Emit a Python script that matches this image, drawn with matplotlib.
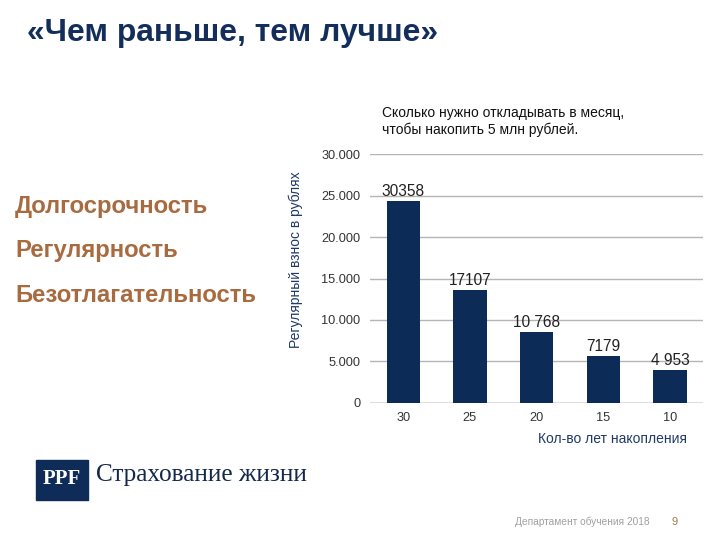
import matplotlib
matplotlib.use("Agg")
import matplotlib.pyplot as plt
from matplotlib.patches import Rectangle
from matplotlib.ticker import FuncFormatter

# data
years = ["30", "25", "20", "15", "10"]
bar_heights = [24300, 13650, 8580, 5680, 3950]
value_labels = ["30358", "17107", "10 768", "7179", "4 953"]
y_ticks = [0, 5000, 10000, 15000, 20000, 25000, 30000]
key_points = ["Долгосрочность", "Регулярность", "Безотлагательность"]

navy = "#0d2b57"
brown = "#a86b40"

plt.rcParams["font.family"] = ["Liberation Sans", "DejaVu Sans"]

fig = plt.figure(figsize=(7.2, 5.4), dpi=100)
W, H = 720, 540

def fx(px):
  return px / W

def fy(py):
  return 1 - py / H

ax = fig.add_axes([fx(370), fy(402.7), fx(703.3) - fx(370), fy(154.3) - fy(402.7)])
x = list(range(len(years)))
ax.bar(x, bar_heights, width=0.5, color=navy, zorder=3)
for xi, h, lab in zip(x, bar_heights, value_labels):
  ax.text(xi, h + 250, lab, ha="center", va="bottom", fontsize=11.2, color="#222222", zorder=4)

ax.set_xlim(-0.5, len(years) - 0.5)
ax.set_ylim(0, 30000)
ax.set_xticks(x)
ax.set_xticklabels(years)
ax.set_yticks(y_ticks)
ax.yaxis.set_major_formatter(FuncFormatter(lambda v, p: "0" if v == 0 else f"{int(v):,}".replace(",", ".")))
ax.tick_params(axis="both", length=0, labelsize=9.2, labelcolor="#333333")
ax.tick_params(axis="y", pad=7)
ax.tick_params(axis="x", pad=7)
ax.yaxis.grid(True, color="#b5b5b5", linewidth=1.0, zorder=0)
for s in ax.spines.values():
  s.set_visible(False)
ax.axhline(0, color="#999999", linewidth=1.0, zorder=2)

fig.text(fx(296), fy(260), "Регулярный взнос в рублях", rotation=90, ha="center", va="center",
         fontsize=10, color="#1f3a66")
fig.text(fx(382), fy(113), "Сколько нужно откладывать в месяц,", ha="left", va="center",
         fontsize=10, color="#111111")
fig.text(fx(382), fy(130), "чтобы накопить 5 млн рублей.", ha="left", va="center",
         fontsize=10, color="#111111")
fig.text(fx(687), fy(439), "Кол-во лет накопления", ha="right", va="center",
         fontsize=10, color="#1f3a66")

# slide title
fig.text(fx(27), fy(33), "«Чем раньше, тем лучше»", ha="left", va="center",
         fontsize=22.9, fontweight="bold", color="#132e5b")

# key points on the left
for i, txt in enumerate(key_points):
  fig.text(fx(15), fy(207 + i * 44), txt, ha="left", va="center",
           fontsize=17.2, fontweight="bold", color=brown)

# logo
fig.patches.append(Rectangle((fx(36), fy(500)), fx(88) - fx(36), fy(460) - fy(500),
                             transform=fig.transFigure, color="#0f2b58", zorder=1))
fig.text(fx(62), fy(479), "PPF", ha="center", va="center", fontsize=15,
         family="Liberation Serif", fontweight="bold", color="white")
fig.text(fx(96), fy(475), "Страхование жизни", ha="left", va="center", fontsize=18.2,
         family="Liberation Serif", color="#14284a")

# footer
fig.text(fx(515), fy(522), "Департамент обучения 2018", ha="left", va="center",
         fontsize=7.3, color="#a0a0a0")
fig.text(fx(675), fy(522), "9", ha="center", va="center", fontsize=8, color="#a07a4f")

fig.savefig("out.png", dpi=100)
